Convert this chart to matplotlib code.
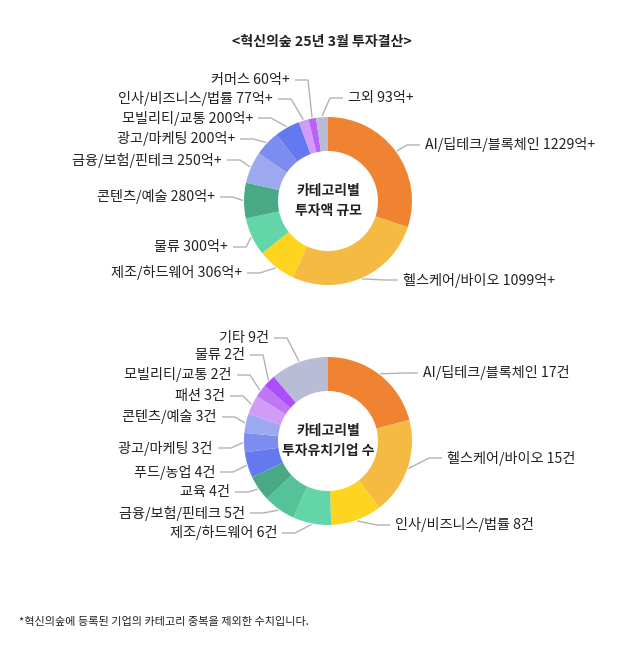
import matplotlib
matplotlib.use('Agg')
import matplotlib.pyplot as plt
import numpy as np

plt.rcParams['font.family'] = ['Noto Sans CJK KR', 'DejaVu Sans']

# ---------------- data ----------------
title = '<혁신의숲 25년 3월 투자결산>'
footnote = '*혁신의숲에 등록된 기업의 카테고리 중복을 제외한 수치입니다.'

amount_center_label = '카테고리별\n투자액 규모'
amount_categories = ['AI/딥테크/블록체인', '헬스케어/바이오', '제조/하드웨어', '물류', '콘텐츠/예술',
                     '금융/보험/핀테크', '광고/마케팅', '모빌리티/교통', '인사/비즈니스/법률', '커머스', '그외']
amount_values = [1229, 1099, 306, 300, 280, 250, 200, 200, 77, 60, 93]
amount_unit = '억+'

count_center_label = '카테고리별\n투자유치기업 수'
count_categories = ['AI/딥테크/블록체인', '헬스케어/바이오', '인사/비즈니스/법률', '제조/하드웨어',
                    '금융/보험/핀테크', '교육', '푸드/농업', '광고/마케팅', '콘텐츠/예술', '패션',
                    '모빌리티/교통', '물류', '기타']
count_values = [17, 15, 8, 6, 5, 4, 4, 3, 3, 3, 2, 2, 9]
count_unit = '건'

# ---------------- styles ----------------
amount_colors = ['#EF8332', '#F4BA41', '#FDD520', '#62D6A8', '#4AA985', '#9DA9EF',
                 '#7C8CF0', '#6479EF', '#D09CF8', '#B862F7', '#B8BCD4']
count_colors = ['#EF8332', '#F4BA41', '#FDD520', '#62D6A8', '#55C298', '#4AA985',
                '#6479EF', '#7C8CF0', '#9DA9EF', '#D09CF8', '#BF77F6', '#AE4EF8', '#B8BCD4']

W, H = 640, 661
TEXT = '#222222'
LINE = '#b3b3b3'
R_OUT, R_W = 84, 34
LABEL_FS = 10.2

# label layout in image pixels: (alignment side, x edge, y)
amount_label_pos = [('l', 425, 145), ('l', 403, 280), ('r', 242, 273), ('r', 228, 247),
                    ('r', 215, 197), ('r', 222, 160), ('r', 235, 139), ('r', 253, 118),
                    ('r', 273, 99), ('r', 290, 80), ('l', 348, 98)]
count_label_pos = [('l', 423, 373), ('l', 447, 458), ('l', 395, 525), ('r', 277, 533),
                   ('r', 245, 513), ('r', 230, 492), ('r', 215, 472), ('r', 213, 448),
                   ('r', 217, 417), ('r', 225, 396), ('r', 232, 375), ('r', 245, 355),
                   ('r', 269, 338)]

fig = plt.figure(figsize=(W / 100, H / 100), dpi=100)
ax = fig.add_axes([0, 0, 1, 1])


def Y(y):
    return H - y


def donut(center_img, values, colors, categories, unit, label_pos, center_label):
    cx, cy = center_img[0], Y(center_img[1])
    ax.pie(values, colors=colors, startangle=90, counterclock=False,
           center=(cx, cy), radius=R_OUT,
           wedgeprops=dict(width=R_W, edgecolor='none', linewidth=0))
    total = float(sum(values))
    cum = 0.0
    for v, cat, (side, xe, ye) in zip(values, categories, label_pos):
        mid = cum + v / 2.0
        cum += v
        th = np.deg2rad(90 - 360 * mid / total)
        ax_ = cx + (R_OUT + 1) * np.cos(th)
        ay_ = cy + (R_OUT + 1) * np.sin(th)
        ty = Y(ye)
        gap, hlen = 5, 13
        if side == 'l':
            x0 = xe - gap
            ex = x0 - hlen
            ax.plot([ax_, ex, x0], [ay_, ty, ty], color=LINE, lw=1, solid_capstyle='butt')
            ax.text(xe, ty, f'{cat} {v}{unit}', ha='left', va='center',
                    fontsize=LABEL_FS, color=TEXT)
        else:
            x0 = xe + gap
            ex = x0 + hlen
            ax.plot([ax_, ex, x0], [ay_, ty, ty], color=LINE, lw=1, solid_capstyle='butt')
            ax.text(xe, ty, f'{cat} {v}{unit}', ha='right', va='center',
                    fontsize=LABEL_FS, color=TEXT)
    ax.text(cx, cy, center_label, ha='center', va='center', fontsize=10,
            fontweight='bold', color=TEXT, linespacing=1.5)


donut((328, 201), amount_values, amount_colors, amount_categories, amount_unit,
      amount_label_pos, amount_center_label)
donut((328, 441), count_values, count_colors, count_categories, count_unit,
      count_label_pos, count_center_label)

ax.text(322, Y(42), title, ha='center', va='center', fontsize=10.1, fontweight='bold', color=TEXT)
ax.text(19, Y(622), footnote, ha='left', va='center', fontsize=8, color=TEXT)

ax.set_xlim(0, W)
ax.set_ylim(0, H)
ax.set_aspect('equal')
ax.axis('off')
fig.savefig('out.png', dpi=100, facecolor='white')
